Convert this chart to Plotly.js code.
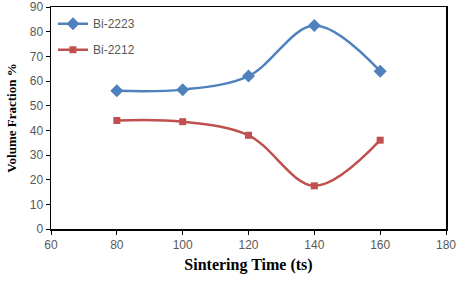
<!DOCTYPE html>
<html><head><meta charset="utf-8">
<script src="https://cdn.plot.ly/plotly-3.0.1.min.js"></script>
<style>html,body{margin:0;padding:0;background:#fff}#c{width:473px;height:282px}</style>
</head><body><div id="c"></div>
<script>
const sinteringTime = [80, 100, 120, 140, 160];
const bi2223 = [56, 56.5, 62, 82.5, 64];
const bi2212 = [44, 43.5, 38, 17.5, 36];
const xTicks = [60, 80, 100, 120, 140, 160, 180];
const yTicks = [0, 10, 20, 30, 40, 50, 60, 70, 80, 90];

const traces = [
  {x: sinteringTime, y: bi2223, name: 'Bi-2223', legendgroup: 'a', mode: 'lines+markers', type: 'scatter',
   line: {color: '#4F81BD', width: 2.5, shape: 'spline', smoothing: 1},
   marker: {symbol: 'diamond', size: 10, color: '#4F81BD'}},
  {x: sinteringTime, y: bi2212, name: 'Bi-2212', legendgroup: 'b', mode: 'lines+markers', type: 'scatter',
   line: {color: '#C0504D', width: 2.5, shape: 'spline', smoothing: 1},
   marker: {symbol: 'square', size: 7, color: '#C0504D'}}
];
const tickFont = {family: 'Liberation Sans, Arial, sans-serif', size: 12, color: '#595959'};
const layout = {
  width: 473, height: 282,
  margin: {l: 51, r: 27, t: 7, b: 53},
  paper_bgcolor: '#fff', plot_bgcolor: '#fff',
  showlegend: true,
  legend: {x: 0.005, y: 0.99, xanchor: 'left', yanchor: 'top', bgcolor: 'rgba(0,0,0,0)',
           font: {family: 'Liberation Sans, Arial, sans-serif', size: 12, color: '#595959'},
           tracegroupgap: 7, itemwidth: 30},
  xaxis: {range: [60, 180], tickvals: xTicks, ticktext: xTicks.map(String),
          showgrid: false, zeroline: false, showline: true, linecolor: '#000', linewidth: 1.5,
          mirror: true, ticks: 'outside', ticklen: 4, tickcolor: '#000', tickfont: tickFont,
          title: {text: 'Sintering Time (ts)', font: {family: 'Liberation Serif, Times New Roman, serif', size: 16, color: '#000', weight: 'bold'}, standoff: 8}},
  yaxis: {range: [0, 90], tickvals: yTicks, ticktext: yTicks.map(String), ticklabeloverflow: 'allow',
          showgrid: false, zeroline: false, showline: true, linecolor: '#000', linewidth: 1.5,
          mirror: true, ticks: 'outside', ticklen: 4, tickcolor: '#000', tickfont: tickFont,
          title: {text: 'Volume Fraction %', font: {family: 'Liberation Serif, Times New Roman, serif', size: 13, color: '#000', weight: 'bold'}, standoff: 10}}
};
Plotly.newPlot('c', traces, layout, {displayModeBar: false, staticPlot: true});
</script></body></html>
